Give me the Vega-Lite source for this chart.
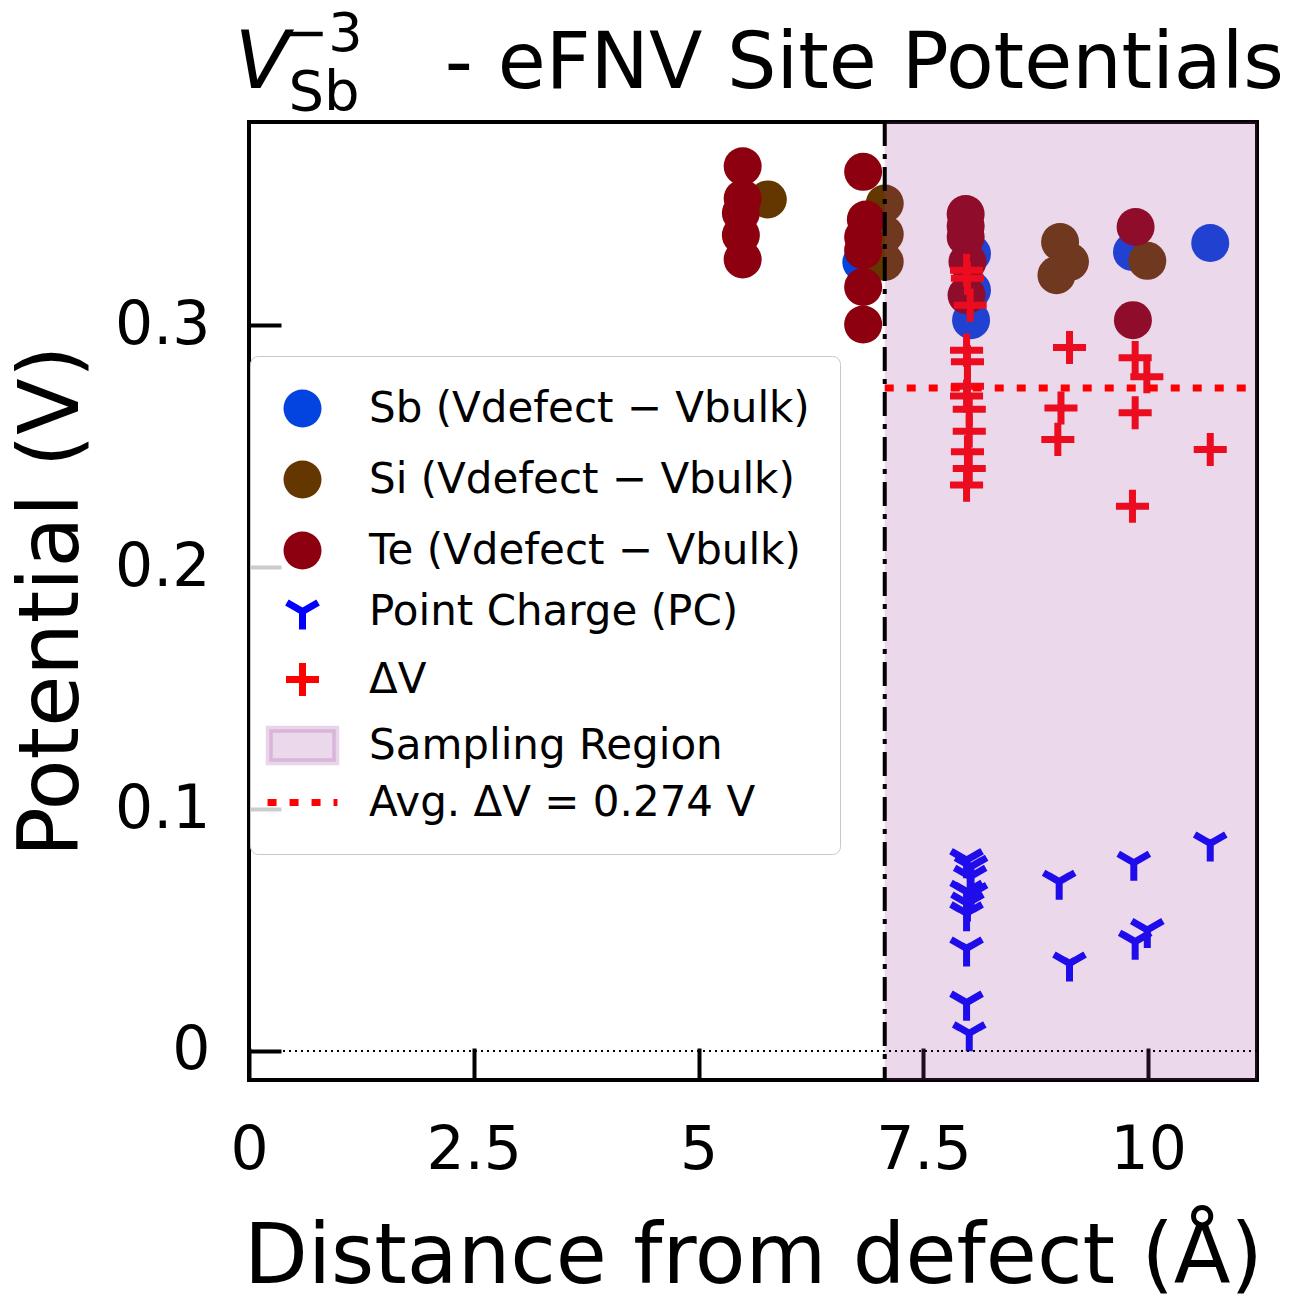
{
  "$schema": "https://vega.github.io/schema/vega-lite/v6.json",
  "autosize": {"type": "none"},
  "padding": {"left": 249, "top": 122, "right": 41, "bottom": 233},
  "width": 1008,
  "height": 958,
  "background": "white",
  "datasets": {
    "points": [
      {"series": "Sb", "distance": 6.81, "potential": 0.326},
      {"series": "Sb", "distance": 8.04, "potential": 0.3296},
      {"series": "Sb", "distance": 8.04, "potential": 0.3145},
      {"series": "Sb", "distance": 8.03, "potential": 0.3021},
      {"series": "Sb", "distance": 9.82, "potential": 0.3303},
      {"series": "Sb", "distance": 10.69, "potential": 0.3340},
      {"series": "Si", "distance": 5.77, "potential": 0.3520},
      {"series": "Si", "distance": 7.07, "potential": 0.3503},
      {"series": "Si", "distance": 7.07, "potential": 0.3376},
      {"series": "Si", "distance": 7.07, "potential": 0.3262},
      {"series": "Si", "distance": 9.02, "potential": 0.3344},
      {"series": "Si", "distance": 9.13, "potential": 0.3262},
      {"series": "Si", "distance": 8.98, "potential": 0.3207},
      {"series": "Si", "distance": 9.99, "potential": 0.3266},
      {"series": "Te", "distance": 5.49, "potential": 0.3657},
      {"series": "Te", "distance": 5.49, "potential": 0.3524},
      {"series": "Te", "distance": 5.47, "potential": 0.3464},
      {"series": "Te", "distance": 5.47, "potential": 0.3372},
      {"series": "Te", "distance": 5.49, "potential": 0.3272},
      {"series": "Te", "distance": 6.83, "potential": 0.3634},
      {"series": "Te", "distance": 6.86, "potential": 0.3437},
      {"series": "Te", "distance": 6.83, "potential": 0.3365},
      {"series": "Te", "distance": 6.83, "potential": 0.3310},
      {"series": "Te", "distance": 6.83, "potential": 0.3158},
      {"series": "Te", "distance": 6.83, "potential": 0.3003},
      {"series": "Te", "distance": 7.97, "potential": 0.3460},
      {"series": "Te", "distance": 7.97, "potential": 0.3410},
      {"series": "Te", "distance": 7.97, "potential": 0.3365},
      {"series": "Te", "distance": 7.99, "potential": 0.3262},
      {"series": "Te", "distance": 7.98, "potential": 0.3124},
      {"series": "Te", "distance": 9.86, "potential": 0.3406},
      {"series": "Te", "distance": 9.83, "potential": 0.3021},
      {"series": "PC", "distance": 7.98, "potential": 0.0789},
      {"series": "PC", "distance": 8.03, "potential": 0.0762},
      {"series": "PC", "distance": 7.98, "potential": 0.0658},
      {"series": "PC", "distance": 8.03, "potential": 0.0649},
      {"series": "PC", "distance": 7.98, "potential": 0.0569},
      {"series": "PC", "distance": 7.99, "potential": 0.0610},
      {"series": "PC", "distance": 8.02, "potential": 0.0720},
      {"series": "PC", "distance": 7.98, "potential": 0.0424},
      {"series": "PC", "distance": 7.98, "potential": 0.0200},
      {"series": "PC", "distance": 8.01, "potential": 0.0073},
      {"series": "PC", "distance": 9.01, "potential": 0.0700},
      {"series": "PC", "distance": 9.125, "potential": 0.0362},
      {"series": "PC", "distance": 9.84, "potential": 0.0778},
      {"series": "PC", "distance": 9.99, "potential": 0.0500},
      {"series": "PC", "distance": 9.855, "potential": 0.0452},
      {"series": "PC", "distance": 10.69, "potential": 0.0858},
      {"series": "dV", "distance": 7.98, "potential": 0.3227},
      {"series": "dV", "distance": 7.99, "potential": 0.3194},
      {"series": "dV", "distance": 8.02, "potential": 0.3083},
      {"series": "dV", "distance": 7.98, "potential": 0.2897},
      {"series": "dV", "distance": 7.99, "potential": 0.2849},
      {"series": "dV", "distance": 7.99, "potential": 0.2748},
      {"series": "dV", "distance": 7.98, "potential": 0.2707},
      {"series": "dV", "distance": 8.01, "potential": 0.2653},
      {"series": "dV", "distance": 8.01, "potential": 0.2562},
      {"series": "dV", "distance": 7.99, "potential": 0.2477},
      {"series": "dV", "distance": 8.01, "potential": 0.2408},
      {"series": "dV", "distance": 7.98, "potential": 0.2339},
      {"series": "dV", "distance": 9.125, "potential": 0.2908},
      {"series": "dV", "distance": 9.03, "potential": 0.2658},
      {"series": "dV", "distance": 8.995, "potential": 0.2528},
      {"series": "dV", "distance": 9.855, "potential": 0.2866},
      {"series": "dV", "distance": 9.985, "potential": 0.2787},
      {"series": "dV", "distance": 9.855, "potential": 0.2638},
      {"series": "dV", "distance": 9.825, "potential": 0.2252},
      {"series": "dV", "distance": 10.69, "potential": 0.2486}
    ],
    "refs": [
      {"kind": "region", "x": 7.07, "x2": 11.21},
      {"kind": "boundary", "x": 7.07},
      {"kind": "avg", "x": 7.07, "x2": 11.21, "y": 0.274},
      {"kind": "zero", "y": 0}
    ]
  },
  "layer": [
    {
      "data": {"name": "points"},
      "mark": {"type": "point", "opacity": 1, "size": 1444, "strokeWidth": 7},
      "encoding": {
        "x": {"field": "distance", "type": "quantitative", "scale": {"domain": [0, 11.21], "nice": false, "zero": false},
              "axis": {"values": [0, 2.5, 5, 7.5, 10], "format": "~g", "title": "Distance from defect (Å)", "labelPadding": 73, "titlePadding": 36}},
        "y": {"field": "potential", "type": "quantitative", "scale": {"domain": [-0.012, 0.384], "nice": false, "zero": false},
              "axis": {"values": [0, 0.1, 0.2, 0.3], "format": "~g", "title": "Potential (V)", "labelPadding": 71, "titlePadding": 20}},
        "fill": {
          "field": "series", "type": "nominal",
          "scale": {"domain": ["Sb", "Si", "Te", "PC", "dV", "SR", "Avg"],
                    "range": ["#0343DF", "#653700", "#8C000F", "transparent", "transparent", "rgba(155,60,155,0.2)", "transparent"]},
          "legend": {
            "orient": "none", "legendX": 1, "legendY": 234, "title": null,
            "labelExpr": "datum.value === 'Sb' ? 'Sb (Vdefect − Vbulk)' : datum.value === 'Si' ? 'Si (Vdefect − Vbulk)' : datum.value === 'Te' ? 'Te (Vdefect − Vbulk)' : datum.value === 'PC' ? 'Point Charge (PC)' : datum.value === 'dV' ? 'ΔV' : datum.value === 'SR' ? 'Sampling Region' : 'Avg. ΔV = 0.274 V'",
            "labelFont": "DejaVu Sans", "labelFontSize": 42, "labelColor": "black", "labelLimit": 1000,
            "labelOffset": 44, "symbolSize": 1444, "symbolStrokeWidth": 7, "symbolOpacity": 1,
            "rowPadding": 4, "padding": 30,
            "fillColor": "rgba(255,255,255,0.8)", "strokeColor": "#c8c8c8", "cornerRadius": 8
          }
        },
        "stroke": {
          "field": "series", "type": "nominal",
          "scale": {"domain": ["Sb", "Si", "Te", "PC", "dV", "SR", "Avg"],
                    "range": ["transparent", "transparent", "transparent", "#0000FF", "#FF0000", "rgba(155,60,155,0.22)", "#FF0000"]}
        },
        "shape": {
          "field": "series", "type": "nominal",
          "scale": {"domain": ["Sb", "Si", "Te", "PC", "dV", "SR", "Avg"],
                    "range": ["circle", "circle", "circle",
                              "M0,0L0,0.95M0,0L-0.82,-0.47M0,0L0.82,-0.47",
                              "M-0.87,0L0.87,0M0,-0.87L0,0.87",
                              "M-1.75,-0.85L1.75,-0.85L1.75,0.85L-1.75,0.85Z",
                              "M-1.84,0L1.84,0"]}
        },
        "strokeDash": {
          "field": "series", "type": "nominal",
          "scale": {"domain": ["Sb", "Si", "Te", "PC", "dV", "SR", "Avg"],
                    "range": [[1, 0], [1, 0], [1, 0], [1, 0], [1, 0], [1, 0], [9, 13]]}
        }
      }
    },
    {
      "data": {"name": "refs"},
      "transform": [{"filter": "datum.kind === 'region'"}],
      "mark": {"type": "rect", "fill": "#9B3C9B", "fillOpacity": 0.2},
      "encoding": {
        "x": {"field": "x", "type": "quantitative"},
        "x2": {"field": "x2"}
      }
    },
    {
      "data": {"name": "refs"},
      "transform": [{"filter": "datum.kind === 'zero'"}],
      "mark": {"type": "rule", "color": "black", "strokeWidth": 2, "strokeDash": [2, 4]},
      "encoding": {
        "y": {"field": "y", "type": "quantitative"}
      }
    },
    {
      "data": {"name": "refs"},
      "transform": [{"filter": "datum.kind === 'boundary'"}],
      "mark": {"type": "rule", "color": "black", "strokeWidth": 4, "strokeDash": [24, 8, 5, 8]},
      "encoding": {
        "x": {"field": "x", "type": "quantitative"}
      }
    },
    {
      "data": {"name": "refs"},
      "transform": [{"filter": "datum.kind === 'avg'"}],
      "mark": {"type": "rule", "color": "#FF0000", "strokeWidth": 7, "strokeDash": [9, 13]},
      "encoding": {
        "x": {"field": "x", "type": "quantitative"},
        "x2": {"field": "x2"},
        "y": {"field": "y", "type": "quantitative"}
      }
    },
    {
      "data": {"values": [{"label": "V"}]},
      "mark": {"type": "text", "font": "DejaVu Sans", "fontStyle": "italic", "fontSize": 80, "align": "center", "baseline": "alphabetic", "color": "black"},
      "encoding": {
        "text": {"field": "label"},
        "x": {"datum": 0.145, "type": "quantitative"},
        "y": {"datum": 0.398, "type": "quantitative"}
      }
    },
    {
      "data": {"values": [{"label": "−3"}]},
      "mark": {"type": "text", "font": "DejaVu Sans", "fontSize": 54, "align": "center", "baseline": "alphabetic", "color": "black"},
      "encoding": {
        "text": {"field": "label"},
        "x": {"datum": 0.82, "type": "quantitative"},
        "y": {"datum": 0.4135, "type": "quantitative"}
      }
    },
    {
      "data": {"values": [{"label": "Sb"}]},
      "mark": {"type": "text", "font": "DejaVu Sans", "fontSize": 56, "align": "center", "baseline": "alphabetic", "color": "black"},
      "encoding": {
        "text": {"field": "label"},
        "x": {"datum": 0.834, "type": "quantitative"},
        "y": {"datum": 0.3888, "type": "quantitative"}
      }
    },
    {
      "data": {"values": [{"label": "- eFNV Site Potentials"}]},
      "mark": {"type": "text", "font": "DejaVu Sans", "fontSize": 78, "align": "right", "baseline": "alphabetic", "color": "black"},
      "encoding": {
        "text": {"field": "label"},
        "x": {"datum": 11.51, "type": "quantitative"},
        "y": {"datum": 0.398, "type": "quantitative"}
      }
    }
  ],
  "config": {
    "view": {"stroke": "black", "strokeWidth": 4},
    "axis": {
      "domain": false,
      "grid": false,
      "tickSize": -32,
      "tickWidth": 4,
      "tickColor": "black",
      "labelFont": "DejaVu Sans",
      "labelFontSize": 60,
      "labelColor": "black",
      "labelFlush": false,
      "labelOverlap": false,
      "titleFont": "DejaVu Sans",
      "titleFontSize": 83,
      "titleFontWeight": "normal",
      "titleColor": "black"
    }
  }
}
